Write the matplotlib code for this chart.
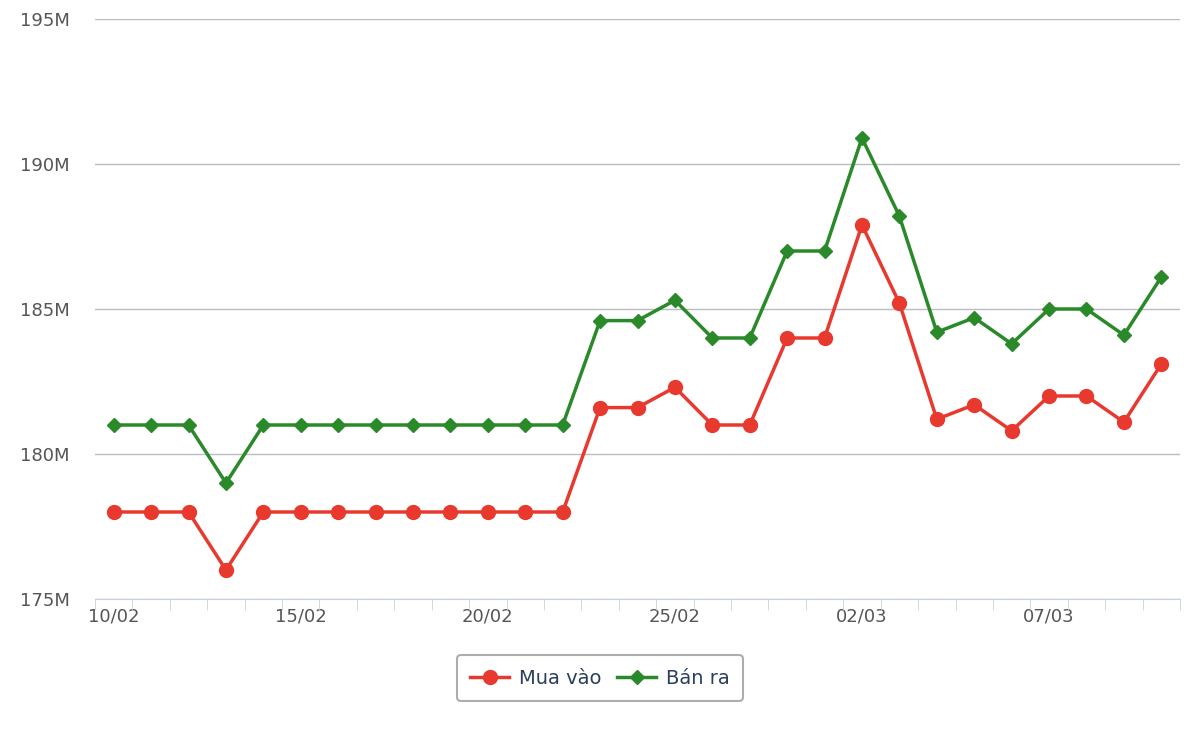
import matplotlib.pyplot as plt
from matplotlib.ticker import FuncFormatter

dates = ['10/02', '11/02', '12/02', '13/02', '14/02', '15/02', '16/02', '17/02', '18/02', '19/02',
         '20/02', '21/02', '22/02', '23/02', '24/02', '25/02', '26/02', '27/02', '28/02', '01/03',
         '02/03', '03/03', '04/03', '05/03', '06/03', '07/03', '08/03', '09/03', '10/03']
mua_vao = [178, 178, 178, 176, 178, 178, 178, 178, 178, 178,
           178, 178, 178, 181.6, 181.6, 182.3, 181, 181, 184, 184,
           187.9, 185.2, 181.2, 181.7, 180.8, 182, 182, 181.1, 183.1]
ban_ra = [181, 181, 181, 179, 181, 181, 181, 181, 181, 181,
          181, 181, 181, 184.6, 184.6, 185.3, 184, 184, 187, 187,
          190.9, 188.2, 184.2, 184.7, 183.8, 185, 185, 184.1, 186.1]

fig = plt.figure(figsize=(12, 7.4), dpi=100)
ax = fig.add_axes([95 / 1200, 141 / 740, 1085 / 1200, 580 / 740])

x = list(range(len(dates)))
ax.plot(x, mua_vao, color='#e8392f', lw=2.5, marker='o', ms=10, label='Mua vào', zorder=3)
ax.plot(x, ban_ra, color='#2a8a2a', lw=2.5, marker='D', ms=7, label='Bán ra', zorder=3)

ax.set_xlim(-0.5, len(dates) - 0.5)
ax.set_ylim(175, 195)
ax.set_yticks([175, 180, 185, 190, 195])
ax.yaxis.set_major_formatter(FuncFormatter(lambda v, p: f'{int(v)}M'))
ax.grid(axis='y', color='#b8bcc4', lw=1)
ax.set_axisbelow(True)

ax.set_xticks(x[::5])
ax.set_xticklabels(dates[::5])
ax.set_xticks([i - 0.5 for i in range(len(dates) + 1)], minor=True)
ax.tick_params(axis='x', which='major', length=0, labelsize=13, colors='#555555', pad=6)
ax.tick_params(axis='x', which='minor', length=8, color='#c8d0e0')
ax.tick_params(axis='y', length=0, labelsize=13, colors='#555555', pad=18)

for s in ['top', 'right', 'left']:
    ax.spines[s].set_visible(False)
ax.spines['bottom'].set_color('#c8d0e0')

leg = fig.legend(loc='center', bbox_to_anchor=(600 / 1200, 1 - 678 / 740), ncol=2, fontsize=14,
                 frameon=True, fancybox=True, edgecolor='#999999', handlelength=2,
                 columnspacing=0.8, borderpad=0.7, handletextpad=0.5)
leg.get_frame().set_linewidth(1.5)
for t in leg.get_texts():
    t.set_color('#2b3f5c')

fig.savefig('out.png', dpi=100)
